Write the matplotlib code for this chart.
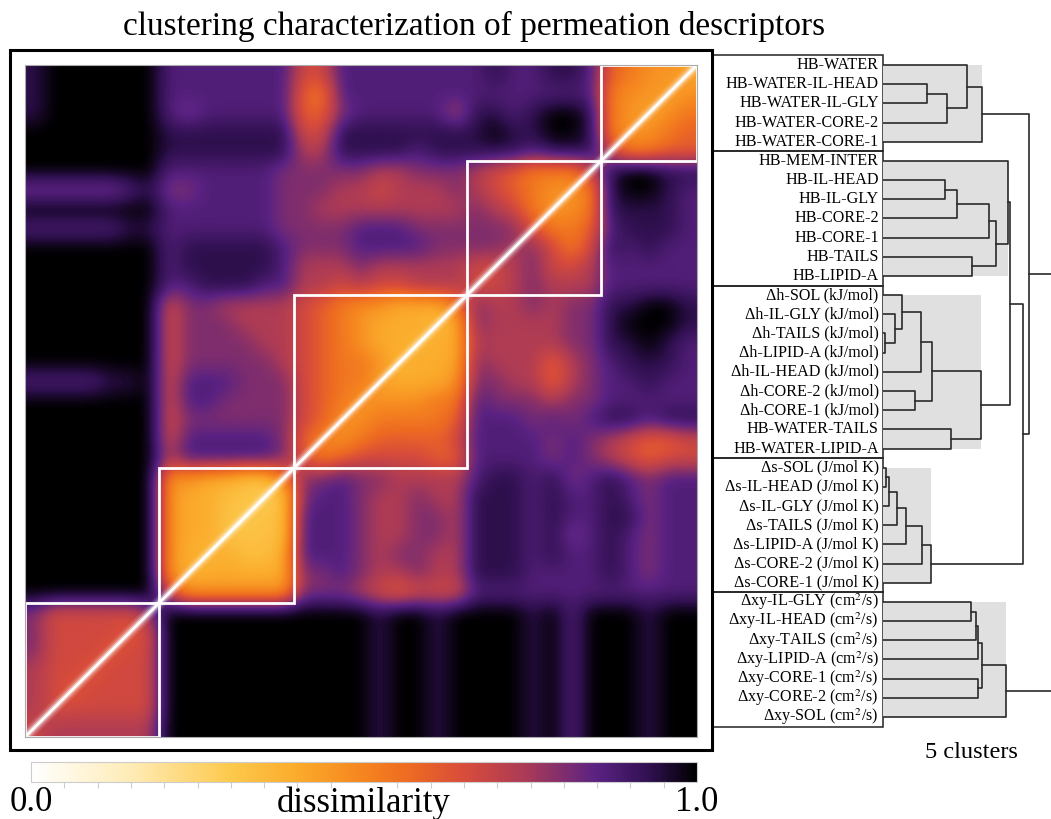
import numpy as np
import matplotlib
matplotlib.use('Agg')
from matplotlib import pyplot as plt
from matplotlib.colors import LinearSegmentedColormap
from matplotlib.patches import Rectangle
from matplotlib.ticker import MultipleLocator

plt.rcParams['font.family'] = 'serif'
plt.rcParams['font.serif'] = ['Liberation Serif', 'DejaVu Serif']
plt.rcParams['mathtext.fontset'] = 'stix'

title = 'clustering characterization of permeation descriptors'

# descriptor names, dendrogram order (top to bottom)
labels = [
    'HB-WATER', 'HB-WATER-IL-HEAD', 'HB-WATER-IL-GLY', 'HB-WATER-CORE-2', 'HB-WATER-CORE-1',
    'HB-MEM-INTER', 'HB-IL-HEAD', 'HB-IL-GLY', 'HB-CORE-2', 'HB-CORE-1', 'HB-TAILS', 'HB-LIPID-A',
    'Δh-SOL (kJ/mol)', 'Δh-IL-GLY (kJ/mol)', 'Δh-TAILS (kJ/mol)', 'Δh-LIPID-A (kJ/mol)',
    'Δh-IL-HEAD (kJ/mol)', 'Δh-CORE-2 (kJ/mol)', 'Δh-CORE-1 (kJ/mol)',
    'HB-WATER-TAILS', 'HB-WATER-LIPID-A',
    'Δs-SOL (J/mol K)', 'Δs-IL-HEAD (J/mol K)', 'Δs-IL-GLY (J/mol K)', 'Δs-TAILS (J/mol K)',
    'Δs-LIPID-A (J/mol K)', 'Δs-CORE-2 (J/mol K)', 'Δs-CORE-1 (J/mol K)',
    'Δxy-IL-GLY (cm$^2$/s)', 'Δxy-IL-HEAD (cm$^2$/s)', 'Δxy-TAILS (cm$^2$/s)',
    'Δxy-LIPID-A (cm$^2$/s)', 'Δxy-CORE-1 (cm$^2$/s)', 'Δxy-CORE-2 (cm$^2$/s)',
    'Δxy-SOL (cm$^2$/s)',
]
cluster_sizes = [5, 7, 9, 7, 7]

# dissimilarity, one hex digit per cell (value = digit/15)
# rows top->bottom follow `labels`, columns left->right follow reversed `labels`
heat_rows = [
    'EFFFFFF' 'DDDDDDD' 'AADDDDDDD' 'DEDDEED' '98770',
    'EFFFFFF' 'DDDDDDD' '98DDDDDDD' 'DDDDDDD' '87707',
    'EFFFFFF' 'DCDDDDD' '99CDDDDDB' 'EEDEFFE' '87078',
    'FFFFFFF' 'EEEEEEE' 'AAEEEEEEE' 'EFEEFFE' '80789',
    'FFFFFFF' 'EEEEEEE' 'BBEEEEDEE' 'EEEDEEE' '08899',
    'FFFFFFF' 'DDDDDDC' 'CCCCBBCCC' 'BA98880' 'EFFEE',
    'CCCCCDE' 'CCDDDDC' 'CCBBABBBC' 'BA98708' 'EFFED',
    'FFFFFFF' 'DDDDDDC' 'CBBBBBBBB' 'CBA8078' 'EEEED',
    'DDDDDEE' 'DDDDDDC' 'CCCDDDCCC' 'CCC0889' 'DEEED',
    'FFFFFFF' 'DEEEEED' 'CCCDDDDCC' 'CC0CA8A' 'EDEDD',
    'FFFFFFF' 'DEEEEED' 'BBBCBBBBB' 'A0BCAAB' 'DDDDD',
    'FFFFFFF' 'DDEEEDD' 'BBABAABBB' '0ABCBBB' 'DDDDD',
    'FFFFFFF' 'ACCBBBB' 'A98776660' 'CBBCBCC' 'EEFFE',
    'FFFFFFF' 'ACCCBBB' 'A98766606' 'CBBBBCC' 'EFFFE',
    'FFFFFFF' 'ACCCCBB' 'A98766066' 'BBBBBCC' 'EEFED',
    'FFFFFFF' 'ACCCCCB' 'A98870666' 'CBBB9BC' 'DEEED',
    'DDDDEEF' 'ADDDCCC' 'A98806667' 'CCBB9BC' 'DDEDD',
    'FFFFFFF' 'ADDCCCC' 'A98077788' 'DCCCBCC' 'DDDDD',
    'FFFFFFF' 'ACCCCCC' 'A90788889' 'DDDCDCD' 'EEDEE',
    'FFFFFFF' 'ADDDDDC' '90789999A' 'DDDDCDC' 'BA99A',
    'FFFFFFF' 'BDDDDDC' '089AAAA99' 'DDDDCDC' 'BA9AA',
    'FFFFFFF' '7766550' 'CCDCCBBBB' 'DEEDECD' 'EDCDD',
    'FFFFFFF' '7665505' 'CDDCBBCBB' 'EEEDEDD' 'EDCDD',
    'FFFFFFF' '7665055' 'DDDCBBCCB' 'EEEDEDD' 'EECDD',
    'FFFFFFF' '7660555' 'DDDCBBCCB' 'EEEDECD' 'EDCDD',
    'FFFFFFF' '7606556' 'DDDCBCCBB' 'EEEDEDD' 'EDCDD',
    'FFFFFFF' '7066666' 'CCDCBBCBB' 'EEEDDDD' 'EDCDD',
    'FFFFFFF' '0777777' 'CCCBA9AAA' 'DDDDDDD' 'DDDDD',
    'CAAAAA0' 'FFFFFFF' 'FFFFEFFEF' 'FFFEFDF' 'FFEFF',
    'CAAAA0A' 'FFFFFFF' 'FFFFEFFEF' 'FFFEFDF' 'FFEFF',
    'CAAA0AA' 'FFFFFFF' 'FFFFEFFEF' 'FFFEFDF' 'FFEFF',
    'BAA0AAA' 'FFFFFFF' 'FFFFEFFEF' 'FFFEFDF' 'FFEFF',
    'BA0AAAA' 'FFFFFFF' 'FFFFEFFEF' 'FFFEFDF' 'FFEFF',
    'B0AAAAA' 'FFFFFFF' 'FFFFEFFEF' 'FFFEFDF' 'FFEFF',
    '0BBBBBB' 'FFFFFFF' 'FFFFEFFEF' 'FFFEFDF' 'FFEFF',
]

# linkage (child a, child b, height); leaves 0..34, merged nodes get 35, 36, ...
links = [
    (1, 2, 0.44), (35, 3, 0.64), (0, 36, 0.84), (37, 4, 0.99),
    (6, 7, 0.62), (39, 8, 0.74), (10, 11, 0.89), (40, 9, 1.06), (42, 41, 1.13), (5, 43, 1.25),
    (14, 15, 0.02), (13, 45, 0.12), (12, 46, 0.19), (47, 16, 0.38), (17, 18, 0.32),
    (48, 49, 0.49), (19, 20, 0.68), (50, 51, 0.98),
    (21, 22, 0.03), (53, 23, 0.06), (54, 24, 0.14), (55, 25, 0.23), (56, 26, 0.39), (57, 27, 0.48),
    (28, 29, 0.88), (59, 30, 0.93), (60, 31, 0.95), (32, 33, 0.95), (61, 62, 0.99), (63, 34, 1.23),
    (44, 52, 1.27), (65, 58, 1.40), (38, 66, 1.46), (67, 64, 1.90),
]

cmap = LinearSegmentedColormap.from_list('dissim', [
    (0.0, '#ffffff'), (0.15, '#feebb5'), (0.3, '#fdc94c'), (0.4, '#fbab2b'),
    (0.5, '#f5841f'), (0.57, '#ed6a22'), (0.65, '#d84c3a'), (0.74, '#ad3b55'),
    (0.85, '#5a2282'), (0.93, '#301050'), (1.0, '#000000')])

W, H = 1051, 819
n = len(labels)
mat = np.array([[int(ch, 16) / 15 for ch in row] for row in heat_rows])

# the zero diagonal is drawn as a thin white line on top; for the smoothed
# image let each diagonal cell take the colour of its neighbours
img = mat.copy()
for i in range(n):
    c = n - 1 - i
    nb = [mat[r, k] for r, k in ((i, c - 1), (i, c + 1), (i - 1, c), (i + 1, c))
          if 0 <= r < n and 0 <= k < n]
    img[i, c] = np.mean(nb) - 0.05

fig = plt.figure(figsize=(W / 100, H / 100), dpi=100)

# heatmap
ax = fig.add_axes([25 / W, 1 - 737 / H, 672 / W, 672 / H])
im = ax.imshow(img, cmap=cmap, vmin=0, vmax=1, interpolation='bicubic', aspect='auto')
ax.set_xlim(-0.5, n - 0.5)
ax.set_ylim(n - 0.5, -0.5)
ax.set_xticks([])
ax.set_yticks([])
for sp in ax.spines.values():
    sp.set_color('#aaaaaa')
    sp.set_linewidth(0.8)

for lw, a in [(9, 0.12), (6, 0.25), (3.5, 0.5), (1.8, 1.0)]:
    ax.plot([-0.5, n - 0.5], [n - 0.5, -0.5], color='white', lw=lw, alpha=a,
            solid_capstyle='butt')

start = 0
for size in cluster_sizes:
    ax.add_patch(Rectangle((n - start - size - 0.5, start - 0.5), size, size,
                           fill=False, ec='white', lw=2))
    start += size

# outer frame
fig.add_artist(Rectangle((10 / W, 1 - 750 / H), 702 / W, 700 / H, transform=fig.transFigure,
                         fill=False, ec='black', lw=2.2))

# labels column
top_px, bot_px = 55.4, 726.6
lax = fig.add_axes([712 / W, 1 - bot_px / H, 171 / W, (bot_px - top_px) / H])
lax.set_xlim(0, 1)
lax.set_ylim(n - 0.5, -0.5)
lax.axis('off')
start = 0
for size in cluster_sizes:
    lax.add_patch(Rectangle((0, start - 0.5), 1, size, fill=False, ec='#222222', lw=1.1,
                            clip_on=False))
    start += size
for i, lab in enumerate(labels):
    lax.text(0.975, i, lab, ha='right', va='center', fontsize=11.6)

# dendrogram
dax = fig.add_axes([883 / W, 1 - bot_px / H, 168 / W, (bot_px - top_px) / H])
dax.set_xlim(0, 1.68)
dax.set_ylim(n - 0.5, -0.5)
dax.axis('off')

pos = {i: (0.0, float(i)) for i in range(n)}
members = {i: [i] for i in range(n)}
for k, (a, b, h) in enumerate(links):
    ha, ya = pos[a]
    hb, yb = pos[b]
    dax.plot([ha, h, h, hb], [ya, ya, yb, yb], color='#2a2a2a', lw=1.2, zorder=2)
    pos[n + k] = (h, (ya + yb) / 2)
    members[n + k] = members[a] + members[b]

start = 0
for size in cluster_sizes:
    want = list(range(start, start + size))
    for node, mem in members.items():
        if sorted(mem) == want:
            dax.add_patch(Rectangle((0, start), pos[node][0], size - 1,
                                    fc='#e0e0e0', ec='none', zorder=0))
    start += size

fig.text(971 / W, 1 - 752 / H, f'{len(cluster_sizes)} clusters', ha='center', va='center',
         fontsize=17.5)
fig.text(474 / W, 1 - 26 / H, title, ha='center', va='center', fontsize=24)

# colorbar
cax = fig.add_axes([31 / W, 1 - 782 / H, 666 / W, 20 / H])
cb = fig.colorbar(im, cax=cax, orientation='horizontal')
cb.set_ticks([0, 0.5, 1])
cb.set_ticklabels(['0.0', 'dissimilarity', '1.0'])
cax.tick_params(which='major', length=0, labelsize=25, pad=3)
cax.xaxis.set_minor_locator(MultipleLocator(0.05))
cax.tick_params(which='minor', length=4, color='#cccccc', width=0.8)
cb.outline.set_edgecolor('#cccccc')
cb.outline.set_linewidth(0.8)

fig.savefig('out.png', dpi=100)
